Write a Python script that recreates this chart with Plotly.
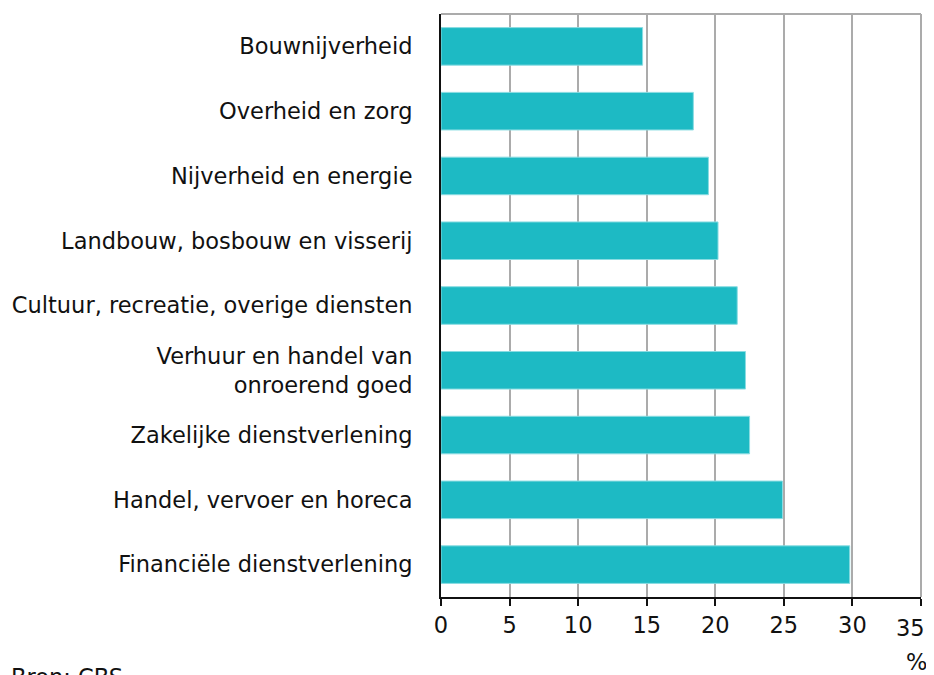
import plotly.graph_objects as go

categories = [
    "Bouwnijverheid",
    "Overheid en zorg",
    "Nijverheid en energie",
    "Landbouw, bosbouw en visserij",
    "Cultuur, recreatie, overige diensten",
    "Verhuur en handel van<br>onroerend goed",
    "Zakelijke dienstverlening",
    "Handel, vervoer en horeca",
    "Financiële dienstverlening",
]
values = [14.7, 18.4, 19.5, 20.2, 21.6, 22.2, 22.5, 24.9, 29.8]
tick_vals = [0, 5, 10, 15, 20, 25, 30, 35]
tick_labels = ["0", "5", "10", "15", "20", "25", "30", "35"]

FONT = "DejaVu Sans"
FS = 22.5
fig = go.Figure(
    go.Bar(
        x=values,
        y=categories,
        orientation="h",
        marker=dict(color="#1DBAC4", line=dict(color="#8ADCE2", width=1)),
        hoverinfo="x+y",
    )
)

# the last tick label would be clipped at the figure edge; draw it right-aligned
axis_text = tick_labels[:-1] + [""]

# page body has an 8px default margin, so the figure is 926x667
fig.update_layout(
    width=926,
    height=667,
    margin=dict(l=433, r=13, t=6, b=78, autoexpand=False),
    paper_bgcolor="white",
    plot_bgcolor="white",
    bargap=0.42,
    showlegend=False,
    font=dict(family=FONT, size=FS, color="#111111"),
    xaxis=dict(
        range=[0, 35],
        tickvals=tick_vals,
        ticktext=axis_text,
        showgrid=True,
        gridcolor="#ABABAB",
        gridwidth=2,
        zeroline=False,
        showline=True,
        linecolor="#111111",
        linewidth=2,
        ticks="outside",
        ticklen=7,
        tickwidth=2,
        tickcolor="#111111",
        tickfont=dict(family=FONT, size=FS, color="#111111"),
        automargin=False,
        ticklabeloverflow="allow",
        fixedrange=True,
    ),
    yaxis=dict(
        autorange="reversed",
        showgrid=False,
        zeroline=False,
        showline=True,
        linecolor="#111111",
        linewidth=2,
        ticks="",
        ticklabelstandoff=22,
        tickfont=dict(family=FONT, size=FS, color="#111111"),
        automargin=False,
        fixedrange=True,
    ),
    shapes=[
        dict(type="line", xref="paper", yref="paper", x0=0, x1=1, y0=1, y1=1,
             line=dict(color="#ABABAB", width=2)),
        dict(type="line", xref="paper", yref="paper", x0=1, x1=1, y0=0, y1=1,
             line=dict(color="#ABABAB", width=2)),
    ],
    annotations=[
        dict(text=tick_labels[-1], xref="x", yref="paper", x=tick_vals[-1], y=0,
             xanchor="right", yanchor="top", xshift=6, yshift=-16, showarrow=False,
             font=dict(family=FONT, size=FS, color="#111111")),
        dict(text="%", xref="paper", yref="paper", x=0.99, y=-0.112,
             xanchor="center", yanchor="middle", showarrow=False,
             font=dict(family=FONT, size=FS, color="#111111")),
        dict(text="Bron: CBS", xref="paper", yref="paper", x=-0.90, y=-0.112,
             xanchor="left", yanchor="top", showarrow=False,
             font=dict(family=FONT, size=FS, color="#111111")),
    ],
)

fig.write_html("out.html")
